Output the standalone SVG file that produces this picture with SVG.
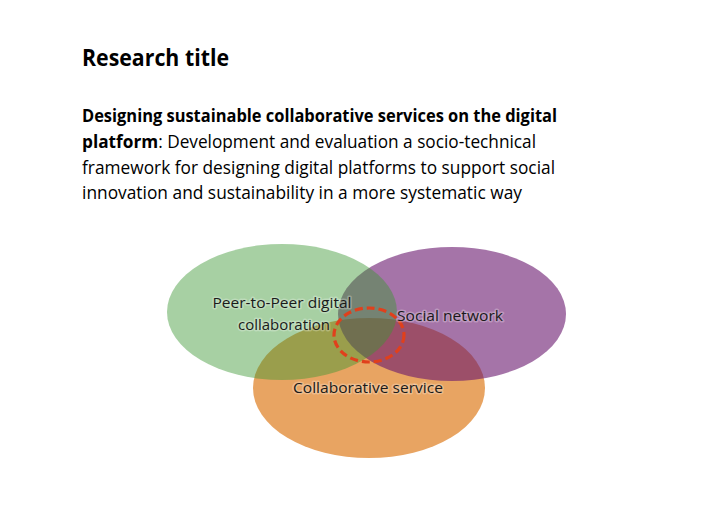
<svg xmlns="http://www.w3.org/2000/svg" width="728" height="514" viewBox="0 0 728 514">
  <defs>
    <style>
      .t { font-family: "Open Sans", "Noto Sans", "Liberation Sans", sans-serif; fill: #000; }
      .b { font-weight: bold; }
      .lbl { font-family: "Open Sans", "Noto Sans", "Liberation Sans", sans-serif; font-size: 14px; fill: #1a1a1a; text-anchor: middle; }
      .halo { stroke: #ffffff; stroke-opacity: 0.25; stroke-width: 3px; paint-order: stroke; stroke-linejoin: round; }
    </style>
  </defs>
  <rect width="728" height="514" fill="#ffffff"/>

  <text class="t b" x="82" y="66" font-size="24" textLength="147" lengthAdjust="spacingAndGlyphs">Research title</text>
  <text class="t b" x="82" y="122" font-size="18" textLength="475" lengthAdjust="spacingAndGlyphs">Designing sustainable collaborative services on the digital</text>
  <text class="t" x="82" y="148" font-size="18" textLength="454" lengthAdjust="spacingAndGlyphs"><tspan class="b">platform</tspan>: Development and evaluation a socio-technical</text>
  <text class="t" x="82" y="174" font-size="18" textLength="473" lengthAdjust="spacingAndGlyphs">framework for designing digital platforms to support social</text>
  <text class="t" x="82" y="199" font-size="18" textLength="440" lengthAdjust="spacingAndGlyphs">innovation and sustainability in a more systematic way</text>

  <g id="collaborative-service">
    <ellipse cx="369" cy="388" rx="116" ry="70" fill="rgb(222,125,31)" fill-opacity="0.7"/>
  </g>
  <g id="social-network">
    <ellipse cx="452" cy="314" rx="114" ry="67" fill="rgb(105,23,110)" fill-opacity="0.6"/>
  </g>
  <g id="p2p-collaboration">
    <ellipse cx="282" cy="312" rx="115" ry="68" fill="rgb(60,150,50)" fill-opacity="0.45"/>
  </g>

  <g id="connectors">
    <ellipse cx="369" cy="335" rx="35" ry="27" fill="none" stroke="#e0401c" stroke-width="3.2" stroke-dasharray="8 4"/>
  </g>

  <g id="labels">
    <text class="lbl halo" x="282" y="308" textLength="139" lengthAdjust="spacingAndGlyphs">Peer-to-Peer digital</text>
    <text class="lbl halo" x="284" y="330" textLength="92" lengthAdjust="spacingAndGlyphs">collaboration</text>
    <text class="lbl halo" x="450" y="321" textLength="106" lengthAdjust="spacingAndGlyphs">Social network</text>
    <text class="lbl halo" x="368" y="393" textLength="150" lengthAdjust="spacingAndGlyphs">Collaborative service</text>
  </g>
</svg>
